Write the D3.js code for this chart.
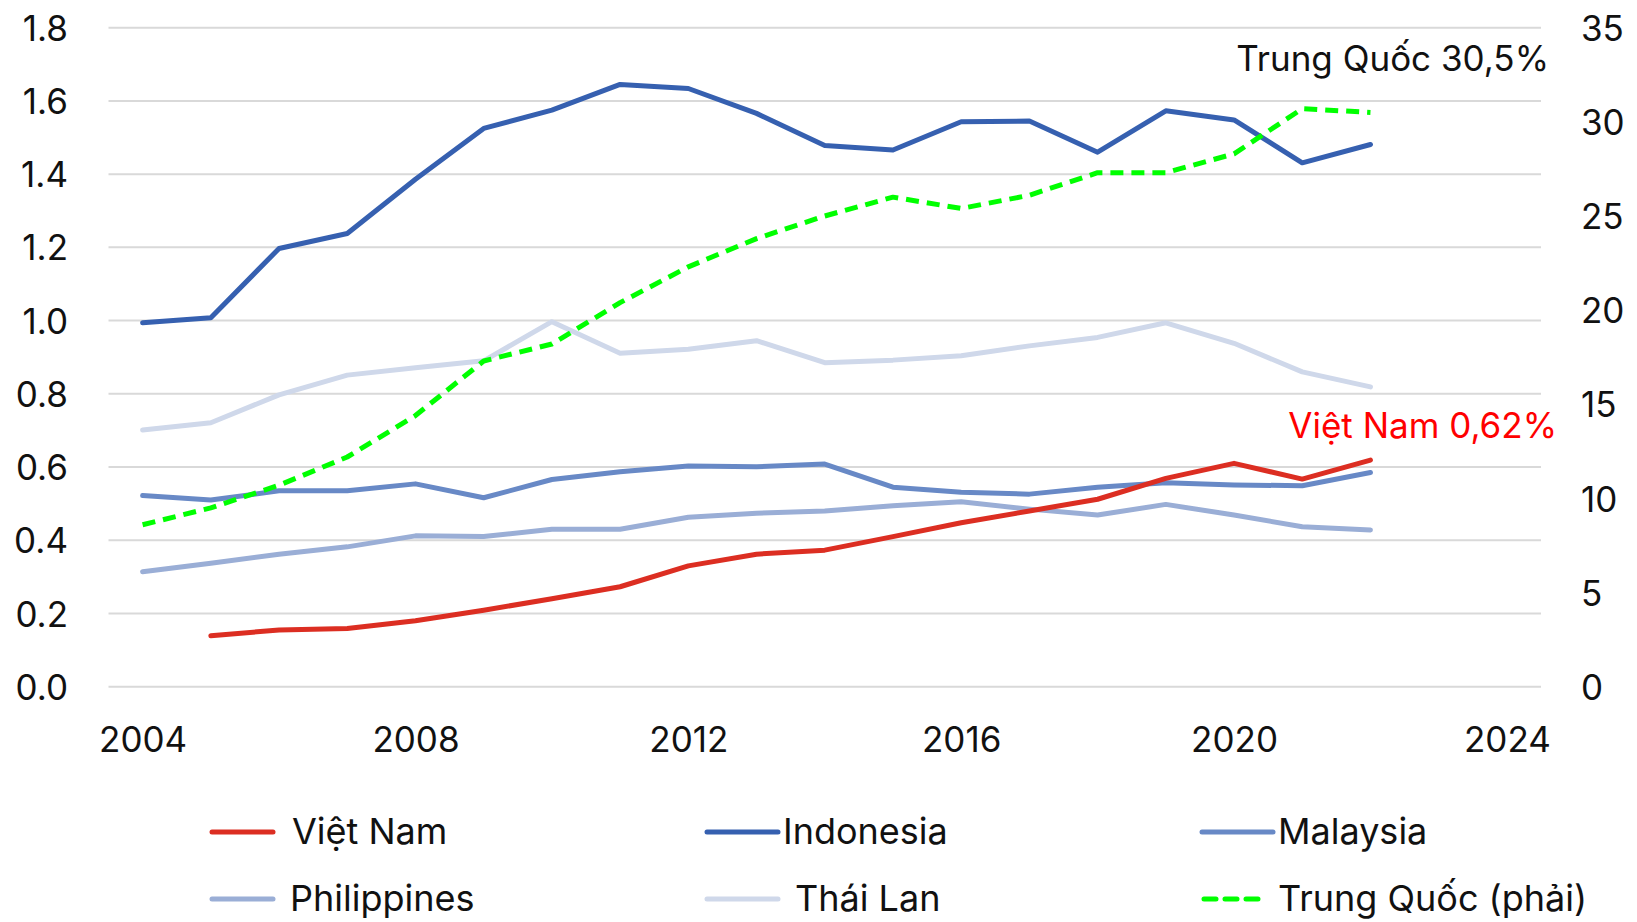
<!DOCTYPE html>
<html>
<head>
<meta charset="utf-8">
<script src="https://cdn.jsdelivr.net/npm/d3@7"></script>
<style>
	body { margin: 0; background: #fff; }
	svg text { font-family: Inter, "Noto Sans", sans-serif; fill: #111; }
	.grid line { stroke: #d9d9d9; stroke-width: 2; }
	.axis path, .axis line { display: none; }
</style>
</head>
<body>
<svg class="chart" width="1637" height="922"></svg>
<script>
(function() {

	// DATA
	var years = [2004,2005,2006,2007,2008,2009,2010,2011,2012,2013,2014,2015,2016,2017,2018,2019,2020,2021,2022]
	var vietNam = [null,0.139,0.155,0.159,0.180,0.209,0.240,0.273,0.330,0.362,0.373,0.410,0.448,0.480,0.512,0.569,0.610,0.567,0.619]
	var indonesia = [0.994,1.008,1.197,1.238,1.386,1.525,1.575,1.645,1.634,1.566,1.478,1.466,1.543,1.545,1.460,1.573,1.548,1.431,1.481]
	var malaysia = [0.522,0.510,0.535,0.535,0.554,0.516,0.566,0.587,0.603,0.601,0.608,0.545,0.531,0.526,0.545,0.557,0.551,0.549,0.585]
	var philippines = [0.314,0.337,0.362,0.382,0.412,0.410,0.430,0.430,0.463,0.474,0.480,0.494,0.505,0.485,0.469,0.498,0.469,0.437,0.428]
	var thaiLan = [0.701,0.721,0.797,0.851,0.871,0.890,0.997,0.911,0.922,0.945,0.885,0.892,0.904,0.931,0.954,0.994,0.938,0.860,0.819]
	var trungQuoc = [8.6,9.5,10.7,12.2,14.4,17.3,18.2,20.4,22.3,23.8,25.0,26.0,25.4,26.1,27.3,27.3,28.3,30.7,30.5]

	var xTicks = [2004,2008,2012,2016,2020,2024]
	var leftTicks = [0,0.2,0.4,0.6,0.8,1.0,1.2,1.4,1.6,1.8]
	var rightTicks = [0,5,10,15,20,25,30,35]

	var series = [
		{ name: 'Việt Nam', values: vietNam, color: '#dc2e22', axis: 'left', dash: null },
		{ name: 'Indonesia', values: indonesia, color: '#3660b0', axis: 'left', dash: null },
		{ name: 'Malaysia', values: malaysia, color: '#6889c6', axis: 'left', dash: null },
		{ name: 'Philippines', values: philippines, color: '#9aaed6', axis: 'left', dash: null },
		{ name: 'Thái Lan', values: thaiLan, color: '#cfd8ea', axis: 'left', dash: null },
		{ name: 'Trung Quốc (phải)', values: trungQuoc, color: '#00ff00', axis: 'right', dash: '13,8' }
	]

	// draw order: light lines first, red and green on top
	var drawOrder = ['Thái Lan', 'Philippines', 'Malaysia', 'Indonesia', 'Việt Nam', 'Trung Quốc (phải)']

	// legend slots (column x, row)
	var legendSlots = [
		{ lx: 212, lw: 61, tx: 292, row: 0 },
		{ lx: 707, lw: 71, tx: 783, row: 0 },
		{ lx: 1202, lw: 71, tx: 1278, row: 0 },
		{ lx: 212, lw: 61, tx: 290, row: 1 },
		{ lx: 707, lw: 71, tx: 795, row: 1 },
		{ lx: 1204, lw: 54, tx: 1278, row: 1 }
	]

	var svg = d3.select('.chart')

	var x = d3.scaleLinear().domain([2003.5, 2024.5]).range([108.5, 1541])
	var yLeft = d3.scaleLinear().domain([0, 1.8]).range([686.7, 27.7])
	var yRight = d3.scaleLinear().domain([0, 35]).range([686.7, 27.7])

	function drawGrid() {
		svg.append('g')
			.attr('class', 'grid')
			.selectAll('line')
			.data(leftTicks)
			.enter()
			.append('line')
			.attr('x1', x.range()[0])
			.attr('x2', x.range()[1])
			.attr('y1', function(d) { return yLeft(d) })
			.attr('y2', function(d) { return yLeft(d) })
	}

	function drawAxes() {
		var axisL = d3.axisLeft(yLeft)
			.tickValues(leftTicks)
			.tickFormat(d3.format('.1f'))
			.tickSize(0)
			.tickPadding(0)

		svg.append('g')
			.attr('class', 'axis axis--left')
			.attr('transform', 'translate(68,0)')
			.call(axisL)

		var axisR = d3.axisRight(yRight)
			.tickValues(rightTicks)
			.tickFormat(d3.format('d'))
			.tickSize(0)
			.tickPadding(0)

		svg.append('g')
			.attr('class', 'axis axis--right')
			.attr('transform', 'translate(1581,0)')
			.call(axisR)

		var axisX = d3.axisBottom(x)
			.tickValues(xTicks)
			.tickFormat(d3.format('d'))
			.tickSize(0)
			.tickPadding(0)

		svg.append('g')
			.attr('class', 'axis axis--x')
			.attr('transform', 'translate(0,727)')
			.call(axisX)

		svg.selectAll('.axis text')
			.attr('font-size', 35)
			.style('font-family', 'Inter, sans-serif')
			.attr('fill', '#111')
		svg.selectAll('.axis--left text, .axis--right text').attr('dy', '0.36em')
		svg.selectAll('.axis--x text').attr('dy', '0.72em')
	}

	function drawLines() {
		var g = svg.append('g').attr('class', 'lines')

		drawOrder.forEach(function(name) {
			var s = series.find(function(d) { return d.name === name })
			var yScale = s.axis === 'right' ? yRight : yLeft
			var line = d3.line()
				.defined(function(d) { return d != null })
				.x(function(d, i) { return x(years[i]) })
				.y(function(d) { return yScale(d) })

			g.append('path')
				.datum(s.values)
				.attr('d', line)
				.attr('fill', 'none')
				.attr('stroke', s.color)
				.attr('stroke-width', 5)
				.attr('stroke-linejoin', 'round')
				.attr('stroke-linecap', s.dash ? 'butt' : 'round')
				.attr('stroke-dasharray', s.dash)
		})
	}

	function drawLabels() {
		svg.append('text')
			.attr('x', 1549)
			.attr('y', 71)
			.attr('text-anchor', 'end')
			.attr('font-size', 35)
			.text('Trung Quốc 30,5%')

		svg.append('text')
			.attr('x', 1557)
			.attr('y', 438)
			.attr('text-anchor', 'end')
			.attr('font-size', 35)
			.style('fill', '#ff0000')
			.text('Việt Nam 0,62%')
	}

	function drawLegend() {
		var rowY = [832, 899]
		var g = svg.append('g').attr('class', 'legend')

		series.forEach(function(s, i) {
			var slot = legendSlots[i]
			var ly = rowY[slot.row]
			g.append('line')
				.attr('x1', slot.lx)
				.attr('x2', slot.lx + slot.lw)
				.attr('y1', ly)
				.attr('y2', ly)
				.attr('stroke', s.color)
				.attr('stroke-width', 5)
				.attr('stroke-linecap', 'round')
				.attr('stroke-dasharray', s.dash ? '12,9' : null)

			g.append('text')
				.attr('x', slot.tx)
				.attr('y', ly + 12)
				.attr('font-size', 36)
				.text(s.name)
		})
	}

	drawGrid()
	drawAxes()
	drawLines()
	drawLabels()
	drawLegend()
})()
</script>
</body>
</html>
